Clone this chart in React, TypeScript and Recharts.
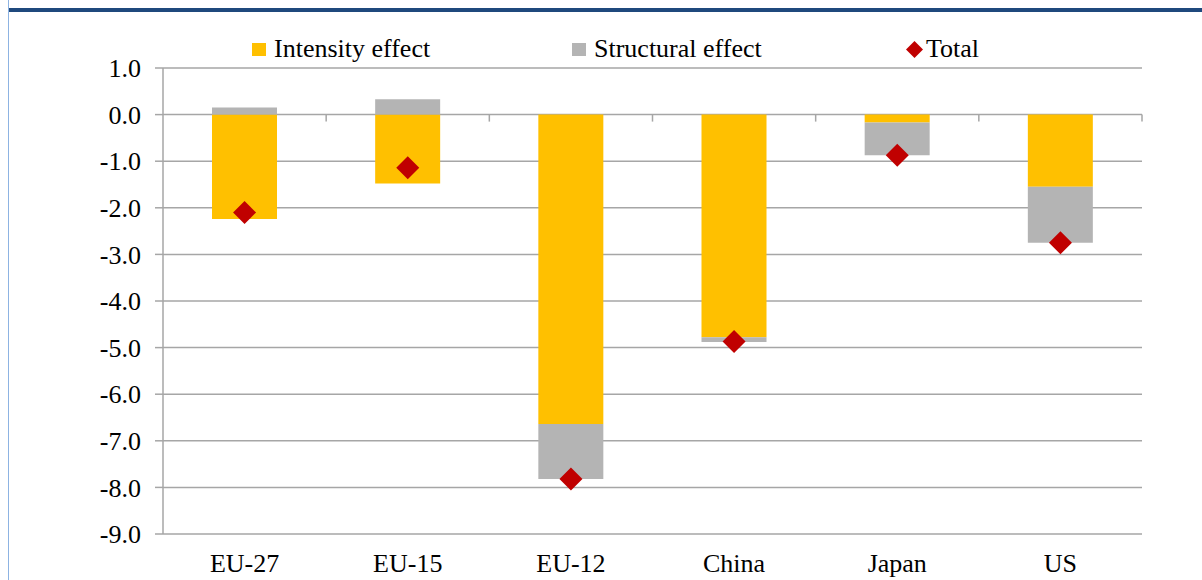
import React from "react";
import { ComposedChart, Bar, Line, XAxis, YAxis, CartesianGrid, ReferenceLine, Legend } from "recharts";

const CATEGORIES = ["EU-27", "EU-15", "EU-12", "China", "Japan", "US"];
const INTENSITY = [-2.24, -1.48, -6.64, -4.78, -0.17, -1.55];
const STRUCTURAL = [0.15, 0.33, -1.18, -0.1, -0.7, -1.2];
const TOTAL = [-2.1, -1.14, -7.82, -4.87, -0.87, -2.75];
const Y_TICKS = [1, 0, -1, -2, -3, -4, -5, -6, -7, -8, -9];

const data = CATEGORIES.map((name, i) => ({
  name,
  intensity: INTENSITY[i],
  structural: STRUCTURAL[i],
  total: TOTAL[i],
}));

const FONT = "Liberation Serif, serif";
const GRID = "#a6a6a6";
const YELLOW = "#FFC000";
const GREY = "#B4B4B4";
const RED = "#C00000";

const Diamond = (props: any) => {
  const { cx, cy } = props;
  if (cx == null || cy == null) return null;
  const r = 11.5;
  return (
    <path
      d={`M${cx},${cy - r} L${cx + r},${cy} L${cx},${cy + r} L${cx - r},${cy} Z`}
      fill={RED}
    />
  );
};

// small tick marks on the zero line at category boundaries
const ZeroTicks = (props: any) => {
  const { x1, x2, y1 } = props;
  if (x1 == null) return null;
  const step = (x2 - x1) / CATEGORIES.length;
  return (
    <g>
      {CATEGORIES.map((_, i) => {
        const x = x1 + step * (i + 1);
        return <line key={i} x1={x} x2={x} y1={y1} y2={y1 + 7} stroke={GRID} strokeWidth={1.5} />;
      })}
    </g>
  );
};

const LEGEND_ITEMS = [
  { label: "Intensity effect", color: YELLOW, left: 252, kind: "square" },
  { label: "Structural effect", color: GREY, left: 572, kind: "square" },
  { label: "Total", color: RED, left: 906, kind: "diamond" },
];

const LegendContent = () => (
  <div style={{ position: "relative", width: 1202, height: 38 }}>
    {LEGEND_ITEMS.map((it) => (
      <div
        key={it.label}
        style={{
          position: "absolute",
          left: it.left,
          top: 0,
          height: 38,
          display: "flex",
          alignItems: "center",
          fontFamily: FONT,
          fontSize: 26,
          color: "#000",
          whiteSpace: "nowrap",
        }}
      >
        {it.kind === "square" ? (
          <span style={{ width: 14, height: 13, background: it.color, marginRight: 8, display: "inline-block" }} />
        ) : (
          <svg width={17} height={17} style={{ marginRight: 3 }}>
            <path d="M8.5,0 L17,8.5 L8.5,17 L0,8.5 Z" fill={it.color} />
          </svg>
        )}
        <span>{it.label}</span>
      </div>
    ))}
  </div>
);

export default function App() {
  return (
    <div style={{ position: "fixed", left: 0, top: 0, width: 1202, height: 580, overflow: "hidden", background: "#fff" }}>
      <div style={{ position: "absolute", left: 8, top: 0, width: 1, height: 580, background: "#8DB3E2" }} />
      <div style={{ position: "absolute", left: 9, right: 0, top: 8, height: 4, background: "#1F497D" }} />
      <div style={{ position: "absolute", left: 0, top: 0 }}>
        <ComposedChart
          width={1202}
          height={580}
          data={data}
          stackOffset="sign"
          margin={{ top: 30, right: 60, left: 0, bottom: 0 }}
        >
          <Legend
            verticalAlign="top"
            content={<LegendContent />}
            wrapperStyle={{ left: 0, width: 1202, height: 38 }}
          />
          <CartesianGrid vertical={false} stroke={GRID} strokeWidth={1.5} />
          <XAxis
            dataKey="name"
            height={46}
            axisLine={false}
            tickLine={false}
            tickSize={0}
            tickMargin={20}
            interval={0}
            tick={{ fontFamily: FONT, fontSize: 26, fill: "#000" }}
          />
          <YAxis
            width={163}
            domain={[-9, 1]}
            ticks={Y_TICKS}
            interval={0}
            tickFormatter={(v: number) => v.toFixed(1)}
            axisLine={{ stroke: GRID, strokeWidth: 1.5 }}
            tickLine={{ stroke: GRID, strokeWidth: 1.5 }}
            tickSize={8}
            tickMargin={14}
            tick={{ fontFamily: FONT, fontSize: 26, fill: "#000" }}
          />
          <Bar dataKey="intensity" stackId="a" fill={YELLOW} barSize={65} isAnimationActive={false} />
          <Bar dataKey="structural" stackId="a" fill={GREY} barSize={65} isAnimationActive={false} />
          <ReferenceLine y={0} shape={<ZeroTicks />} />
          <Line
            dataKey="total"
            stroke="none"
            dot={<Diamond />}
            activeDot={false}
            legendType="none"
            isAnimationActive={false}
          />
        </ComposedChart>
      </div>
    </div>
  );
}
